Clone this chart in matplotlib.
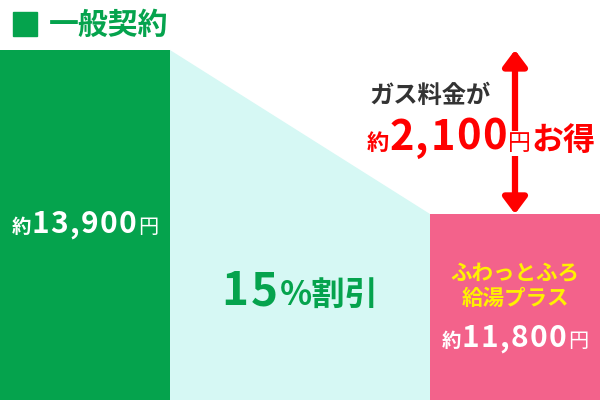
import matplotlib
matplotlib.use('Agg')
from matplotlib import pyplot as plt
from matplotlib.transforms import IdentityTransform
from matplotlib.patches import FancyArrowPatch, Rectangle

plt.rcParams['font.family'] = ['Noto Sans CJK JP', 'DejaVu Sans']

# data
plans = ['一般契約', 'ふわっとふろ\n給湯プラス']
prices = [13900, 11800]
saving = prices[0] - prices[1]
discount = 15

GREEN = '#05a34d'
PINK = '#f3628b'
CYAN = '#d6f8f4'
RED = '#ff0000'
YELLOW = '#fff100'

fig = plt.figure(figsize=(6, 4), dpi=100)
ax = fig.add_axes([0, 0, 1, 1])
ax.set_xlim(0, 600)
ax.set_ylim(9418, 14540)   # illustrative scale, not from zero
ax.axis('off')

xs = [85, 515]
ax.bar(xs, prices, width=170, bottom=0, color=[GREEN, PINK], zorder=2)
ax.fill_between([170, 430], prices, 0, color=CYAN, lw=0, zorder=1)

# double arrow for the saving
arr = FancyArrowPatch((515, prices[1]), (515, prices[0]),
                      arrowstyle='<|-|>,head_length=0.8,head_width=0.6',
                      mutation_scale=12, color=RED, lw=4.5,
                      shrinkA=0, shrinkB=0, zorder=3)
ax.add_patch(arr)

r = fig.canvas.get_renderer()


def rich(x, y, pieces, ha='center', track=0):
    # pieces: (text, size, color, weight); y = baseline in px from top
    # digits get some extra letter spacing (track, px)
    items = []
    for s, size, color, weight in pieces:
        if track and any(c.isdigit() for c in s):
            for c in s:
                items.append((c, size, color, weight, track))
        else:
            items.append((s, size, color, weight, 0))
    texts, widths = [], []
    for s, size, color, weight, tr in items:
        t = fig.text(0, 400 - y, s, fontsize=size, color=color,
                     fontweight=weight, transform=IdentityTransform(),
                     va='baseline', ha='left', zorder=5)
        texts.append(t)
        widths.append(t.get_window_extent(r).width + tr)
    x0 = x - sum(widths) / 2 if ha == 'center' else x
    for t, w in zip(texts, widths):
        t.set_x(x0)
        x0 += w
    return texts


def yen(v):
    return f'{v:,}'


# title
fig.patches.append(Rectangle((13, 400 - 36), 24, 24, color=GREEN,
                             transform=IdentityTransform(), figure=fig))
rich(49, 34, [(plans[0], 21.5, GREEN, 'bold')], ha='left')

# left bar
rich(85, 233, [('約', 14, 'white', 'bold'),
               (yen(prices[0]), 21.5, 'white', 'bold'),
               ('円', 14.5, 'white', 'normal')], track=1.5)

# discount
rich(300, 305, [(str(discount), 33, GREEN, 'bold'),
                ('%割引', 24, GREEN, 'bold')], track=2)

# saving
rich(369, 103, [('ガス料金が', 17.5, '#333333', 'bold')], ha='left')
ts = rich(367, 150, [('約', 16, RED, 'bold'),
                     (yen(saving), 30, RED, 'bold'),
                     ('円', 16.5, RED, 'normal'),
                     ('お得', 23, RED, 'bold')], ha='left', track=1.5)
ts[-2].set_bbox(dict(facecolor='white', edgecolor='none', pad=1))

# right bar
name1, name2 = plans[1].split('\n')
rich(515, 280, [(name1, 15.5, YELLOW, 'bold')])
rich(515, 305, [(name2, 15.5, YELLOW, 'bold')])
rich(515, 347, [('約', 14, 'white', 'bold'),
                (yen(prices[1]), 21.5, 'white', 'bold'),
                ('円', 14.5, 'white', 'normal')], track=1.5)

fig.savefig('out.png', dpi=100)
